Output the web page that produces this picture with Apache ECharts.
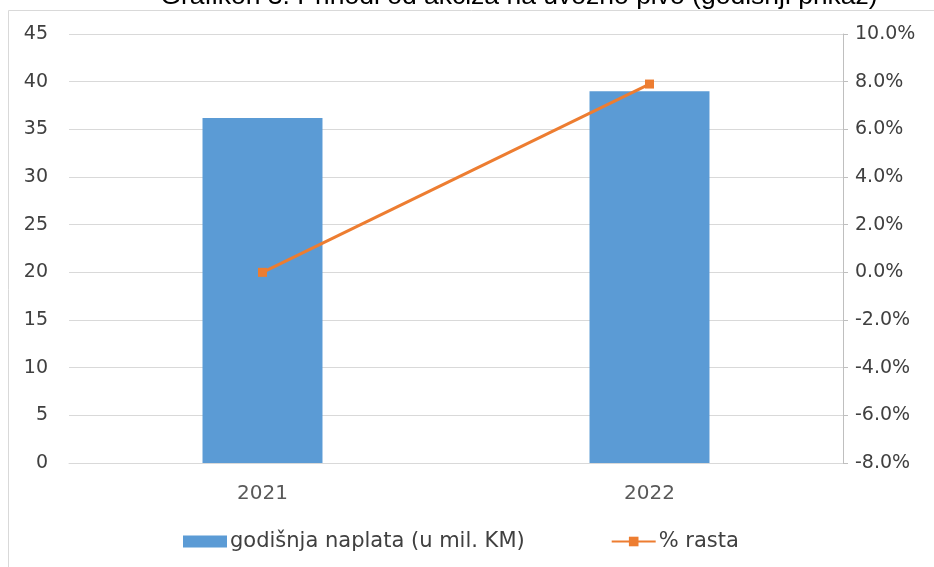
<!DOCTYPE html>
<html>
<head>
<meta charset="utf-8">
<script src="https://cdn.jsdelivr.net/npm/echarts@6/dist/echarts.min.js"></script>
<style>html,body{margin:0;padding:0;background:#fff}#c{width:934px;height:567px}</style>
</head>
<body>
<div id="c"></div>
<script>
var categories = ['2021', '2022'];
var naplata = [36.2, 39.0];
var rast = [0.0, 7.9];
var leftTicks = [0, 45, 5];
var rightTicks = [-8, 10, 2];
var titleText = 'Grafikon 3. Prihodi od akciza na uvozno pivo (godišnji prikaz)';

var chart = echarts.init(document.getElementById('c'));
var font = 'DejaVu Sans';
chart.setOption({
  animation: false,
  graphic: [
    {type: 'rect', shape: {x: 8.5, y: 10.5, width: 1000, height: 700}, style: {fill: 'none', stroke: '#d9d9d9', lineWidth: 1}, z: -1},
    {type: 'text', x: 519, y: -17, style: {text: titleText, font: '26.5px "Liberation Sans"', fill: '#000', textAlign: 'center', textVerticalAlign: 'top'}}
  ],
  grid: {left: 69, right: 91, top: 34, bottom: 104, containLabel: false},
  legend: {
    bottom: 10, left: 178, itemGap: 86, itemWidth: 44, itemHeight: 12,
    textStyle: {fontFamily: font, fontSize: 21, color: '#404040', padding: [0, 0, 0, -2]},
    data: [{name: 'godišnja naplata (u mil. KM)', icon: 'rect'}, {name: '% rasta'}]
  },
  xAxis: {
    type: 'category', data: categories,
    axisLine: {lineStyle: {color: '#d9d9d9'}}, axisTick: {show: false},
    axisLabel: {fontFamily: font, fontSize: 20, color: '#595959', margin: 21}
  },
  yAxis: [
    {type: 'value', min: leftTicks[0], max: leftTicks[1], interval: leftTicks[2],
     axisLine: {show: false}, axisTick: {show: false},
     splitLine: {lineStyle: {color: '#d9d9d9'}},
     axisLabel: {fontFamily: font, fontSize: 19, color: '#404040', margin: 21}},
    {type: 'value', min: rightTicks[0], max: rightTicks[1], interval: rightTicks[2],
     position: 'right',
     axisLine: {show: true, lineStyle: {color: '#bfbfbf'}},
     axisTick: {show: true, length: 5, lineStyle: {color: '#bfbfbf'}},
     splitLine: {show: false},
     axisLabel: {fontFamily: font, fontSize: 19, color: '#404040', margin: 12,
       formatter: function (v) { return v.toFixed(1) + '%'; }}}
  ],
  series: [
    {name: 'godišnja naplata (u mil. KM)', type: 'bar', data: naplata, barWidth: '31%',
     itemStyle: {color: '#5b9bd5'}},
    {name: '% rasta', type: 'line', yAxisIndex: 1, data: rast,
     symbol: 'rect', symbolSize: 9,
     lineStyle: {color: '#ed7d31', width: 3}, itemStyle: {color: '#ed7d31'}}
  ]
});
</script>
</body>
</html>
